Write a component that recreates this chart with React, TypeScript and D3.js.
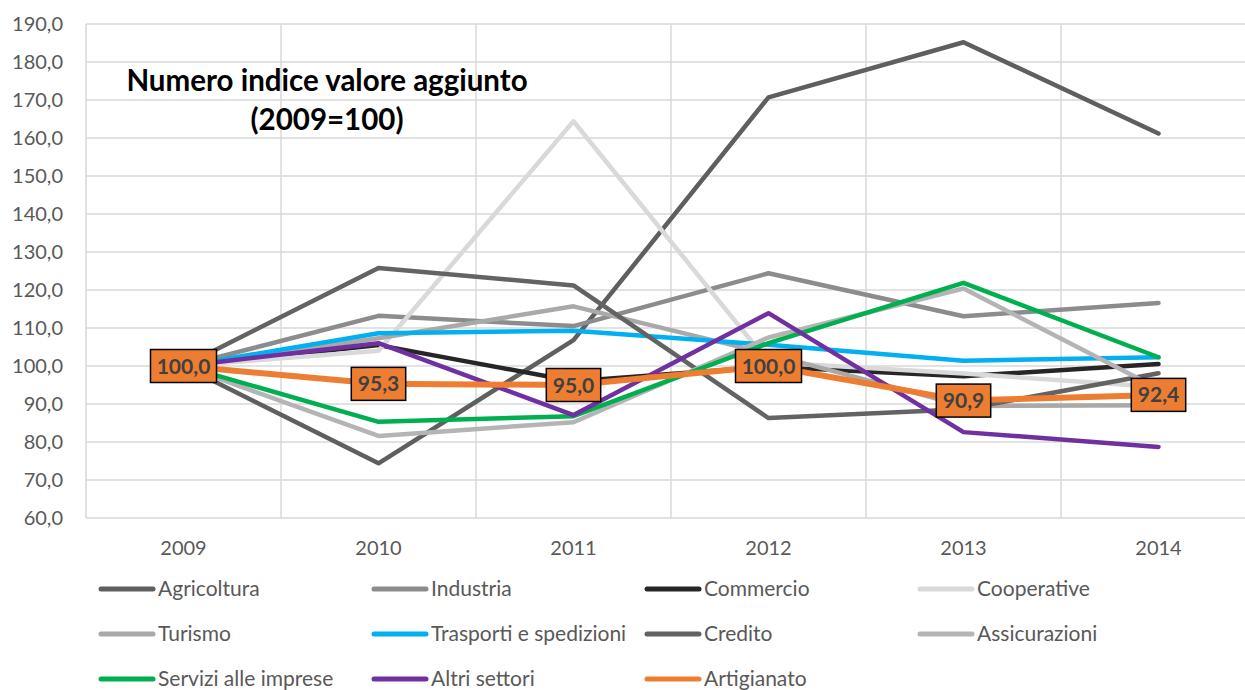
import * as d3 from 'd3';

const YEARS = ['2009', '2010', '2011', '2012', '2013', '2014'];

const AGRICOLTURA = [100, 74.4, 106.8, 170.7, 185.2, 161.2];
const INDUSTRIA = [100, 113.2, 110.5, 124.4, 113.1, 116.6];
const COMMERCIO = [100, 105.5, 96.0, 99.8, 97.3, 100.5];
const COOPERATIVE = [100, 104.0, 164.4, 101.0, 98.0, 94.5];
const TURISMO = [100, 107.3, 115.7, 103.2, 89.5, 89.7];
const TRASPORTI = [100, 108.6, 109.3, 105.6, 101.4, 102.3];
const CREDITO = [100, 125.8, 121.2, 86.3, 88.6, 98.1];
const ASSICURAZIONI = [100, 81.6, 85.2, 107.5, 120.4, 94.0];
const SERVIZI = [100, 85.3, 86.8, 106.0, 121.9, 102.3];
const ALTRI = [100, 106.0, 87.1, 113.9, 82.6, 78.7];
const ARTIGIANATO = [100, 95.3, 95.0, 100.0, 90.9, 92.4];

const SERIES = [
  { name: 'Agricoltura', color: '#5f5f5f', values: AGRICOLTURA },
  { name: 'Industria', color: '#8c8c8c', values: INDUSTRIA },
  { name: 'Commercio', color: '#262626', values: COMMERCIO },
  { name: 'Cooperative', color: '#d9d9d9', values: COOPERATIVE },
  { name: 'Turismo', color: '#a9a9a9', values: TURISMO },
  { name: 'Trasporti e spedizioni', color: '#00b0f0', values: TRASPORTI },
  { name: 'Credito', color: '#636363', values: CREDITO },
  { name: 'Assicurazioni', color: '#b4b4b4', values: ASSICURAZIONI },
  { name: 'Servizi alle imprese', color: '#00b050', values: SERVIZI },
  { name: 'Altri settori', color: '#7030a0', values: ALTRI },
  { name: 'Artigianato', color: '#ed7d31', values: ARTIGIANATO },
];

const Y_TICKS = d3.range(60, 191, 10);
const fmt = (v: number) => v.toFixed(1).replace('.', ',');

const W = 1245, H = 690;
const PL = 86, PR = 1256, PT = 24, PB = 518;
const FONT = 'Lato, "Open Sans", sans-serif';

export default function App() {
  const x = d3.scalePoint<string>().domain(YEARS).range([PL, PR]).padding(0.5);
  const y = d3.scaleLinear().domain([60, 190]).range([PB, PT]);
  const step = x.step();
  const line = d3.line<number>().x((_, i) => x(YEARS[i])!).y(v => y(v));

  const legendCols = [99, 372, 645, 918];
  const legendRows = [589, 634, 679];

  return (
    <svg width={W} height={H} style={{ position: 'absolute', left: 0, top: 0, display: 'block', background: '#fff' }} fontFamily={FONT}>
      {/* grid */}
      {Y_TICKS.map(t => (
        <line key={'h' + t} x1={PL} x2={PR} y1={y(t)} y2={y(t)} stroke="#d9d9d9" strokeWidth={1.5} />
      ))}
      {d3.range(0, YEARS.length + 1).map(i => (
        <line key={'v' + i} x1={PL + i * step} x2={PL + i * step} y1={PT} y2={PB} stroke="#d9d9d9" strokeWidth={1.5} />
      ))}

      {/* y labels */}
      {Y_TICKS.map(t => (
        <text key={'yl' + t} x={63} y={y(t)} dy="0.35em" textAnchor="end" fontSize={20} fill="#595959">{fmt(t)}</text>
      ))}
      {/* x labels */}
      {YEARS.map(yr => (
        <text key={'xl' + yr} x={x(yr)} y={555} textAnchor="middle" fontSize={20} fill="#595959">{yr}</text>
      ))}

      {/* title */}
      <text x={327} y={91} textAnchor="middle" fontSize={29.5} fontWeight="bold" fill="#000">Numero indice valore aggiunto</text>
      <text x={327} y={130} textAnchor="middle" fontSize={29.5} fontWeight="bold" fill="#000">(2009=100)</text>

      {/* series */}
      {SERIES.map(s => (
        <path key={s.name} d={line(s.values) ?? ''} fill="none" stroke={s.color}
          strokeWidth={s.name === 'Artigianato' ? 6 : 4.5} strokeLinejoin="round" strokeLinecap="round" />
      ))}

      {/* data labels for Artigianato */}
      {ARTIGIANATO.map((v, i) => {
        const label = fmt(v);
        const w = label.length * 11.6 + 8;
        const cx = x(YEARS[i])!;
        const cy = y(v);
        return (
          <g key={'lab' + i}>
            <rect x={cx - w / 2} y={cy - 16.5} width={w} height={33} fill="#ed7d31" stroke="#000" strokeWidth={1.5} />
            <text x={cx} y={cy} dy="0.36em" textAnchor="middle" fontSize={21} fontWeight="bold" fill="#404040">{label}</text>
          </g>
        );
      })}

      {/* legend */}
      {SERIES.map((s, i) => {
        const lx = legendCols[i % 4];
        const ly = legendRows[Math.floor(i / 4)];
        return (
          <g key={'lg' + s.name}>
            <line x1={lx + 2} x2={lx + 54} y1={ly} y2={ly} stroke={s.color} strokeWidth={5} strokeLinecap="round" />
            <text x={lx + 59} y={ly} dy="0.35em" fontSize={21} fill="#595959">{s.name}</text>
          </g>
        );
      })}
    </svg>
  );
}
